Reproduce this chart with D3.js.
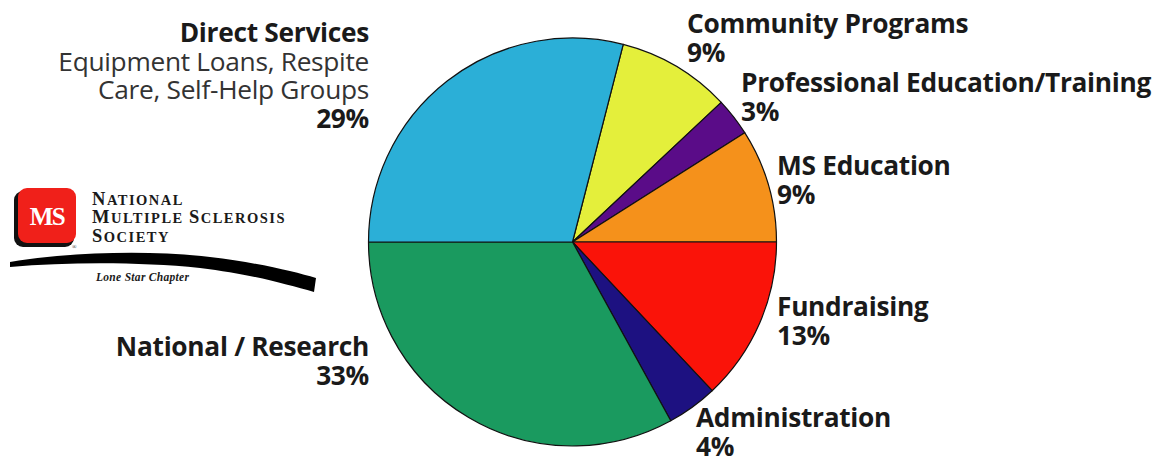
<!DOCTYPE html>
<html>
<head>
<meta charset="utf-8">
<script src="https://cdn.jsdelivr.net/npm/d3@7"></script>
<style>
  html, body { margin: 0; padding: 0; background: #fff; }
  svg { display: block; }
</style>
</head>
<body>
<svg id="chart" width="1154" height="459"></svg>
<script>
// ---- data ----
const categories = ["Community Programs", "Professional Education/Training", "MS Education", "Fundraising", "Administration", "National / Research", "Direct Services"];
const values = [9, 3, 9, 13, 4, 33, 29];
const percentLabels = ["9%", "3%", "9%", "13%", "4%", "33%", "29%"];
const subLabels = [[], [], [], [], [], [], ["Equipment Loans, Respite", "Care, Self-Help Groups"]];
const colors = ["#e4ef3b", "#5a0c88", "#f5911b", "#fa1309", "#1d1181", "#1a9a5f", "#2bafd7"];

// ---- layout ----
const W = 1154, H = 459;
const cx = 572.5, cy = 242, R = 204;
const startDeg = 14.4;
const labelPos = [
  {x: 687, y: 33, anchor: "start"},
  {x: 741, y: 92, anchor: "start"},
  {x: 777, y: 175, anchor: "start"},
  {x: 777, y: 316, anchor: "start"},
  {x: 696, y: 427, anchor: "start"},
  {x: 369, y: 356, anchor: "end"},
  {x: 369, y: 42, anchor: "end"}
];
const lineH = 28.7;

const svg = d3.select("#chart");

const pie = d3.pie().sort(null).value(d => d)
  .startAngle(startDeg * Math.PI / 180)
  .endAngle(startDeg * Math.PI / 180 + 2 * Math.PI);
const arc = d3.arc().innerRadius(0).outerRadius(R);

svg.append("g").attr("transform", `translate(${cx},${cy})`)
  .selectAll("path").data(pie(values)).join("path")
  .attr("d", arc)
  .attr("fill", (d, i) => colors[i])
  .attr("stroke", "#111")
  .attr("stroke-width", 1.2)
  .attr("stroke-linejoin", "round");

// labels
const font = "'Open Sans', 'Noto Sans', sans-serif";
const lg = svg.append("g").attr("font-family", font).attr("font-size", 26.3).attr("fill", "#1a1a1a");
categories.forEach((c, i) => {
  const p = labelPos[i];
  const t = lg.append("text").attr("x", p.x).attr("y", p.y).attr("text-anchor", p.anchor)
    .attr("letter-spacing", -0.3);
  t.append("tspan").attr("x", p.x).attr("font-weight", 700).text(c);
  subLabels[i].forEach(s => {
    t.append("tspan").attr("x", p.x).attr("dy", lineH).attr("font-weight", 400).attr("fill", "#333").text(s);
  });
  t.append("tspan").attr("x", p.x).attr("dy", lineH).attr("font-weight", 700).text(percentLabels[i]);
});

// ---- logo ----
const logo = svg.append("g");
const serif = "'Liberation Serif', 'DejaVu Serif', serif";
// shadow of red box
logo.append("rect").attr("x", 14).attr("y", 191).attr("width", 60).attr("height", 56).attr("rx", 9).attr("fill", "#111");
logo.append("rect").attr("x", 18).attr("y", 188).attr("width", 58).attr("height", 55).attr("rx", 9).attr("fill", "#f0201a");
logo.append("text").attr("x", 47).attr("y", 225).attr("text-anchor", "middle")
  .attr("font-family", serif).attr("font-size", 25).attr("font-weight", 700)
  .attr("fill", "#fff").attr("letter-spacing", -1.5).text("MS");
logo.append("text").attr("x", 72).attr("y", 249).attr("font-family", serif).attr("font-size", 6).attr("fill", "#111").text("®");

function smallCaps(x, y, parts) {
  const t = logo.append("text").attr("x", x).attr("y", y).attr("font-family", serif)
    .attr("font-weight", 700).attr("fill", "#1a1a1a").attr("letter-spacing", 1.5);
  parts.forEach(([s, big]) => t.append("tspan").attr("font-size", big ? 18.5 : 14.5).text(s));
}
smallCaps(92, 205, [["N", 1], ["ATIONAL", 0]]);
smallCaps(92, 223, [["M", 1], ["ULTIPLE ", 0], ["S", 1], ["CLEROSIS", 0]]);
smallCaps(92, 242, [["S", 1], ["OCIETY", 0]]);

// swoosh
logo.append("path")
  .attr("d", "M10,262 C70,252 150,250 210,257 C260,263 295,272 316,278 L314,292 C285,284 250,274 200,268 C140,262 70,262 10,267 Z")
  .attr("fill", "#000");
logo.append("text").attr("x", 96).attr("y", 281).attr("font-family", serif).attr("font-size", 11.5)
  .attr("font-style", "italic").attr("font-weight", 700).attr("letter-spacing", 0.3).attr("fill", "#1a1a1a").text("Lone Star Chapter");
</script>
</body>
</html>
